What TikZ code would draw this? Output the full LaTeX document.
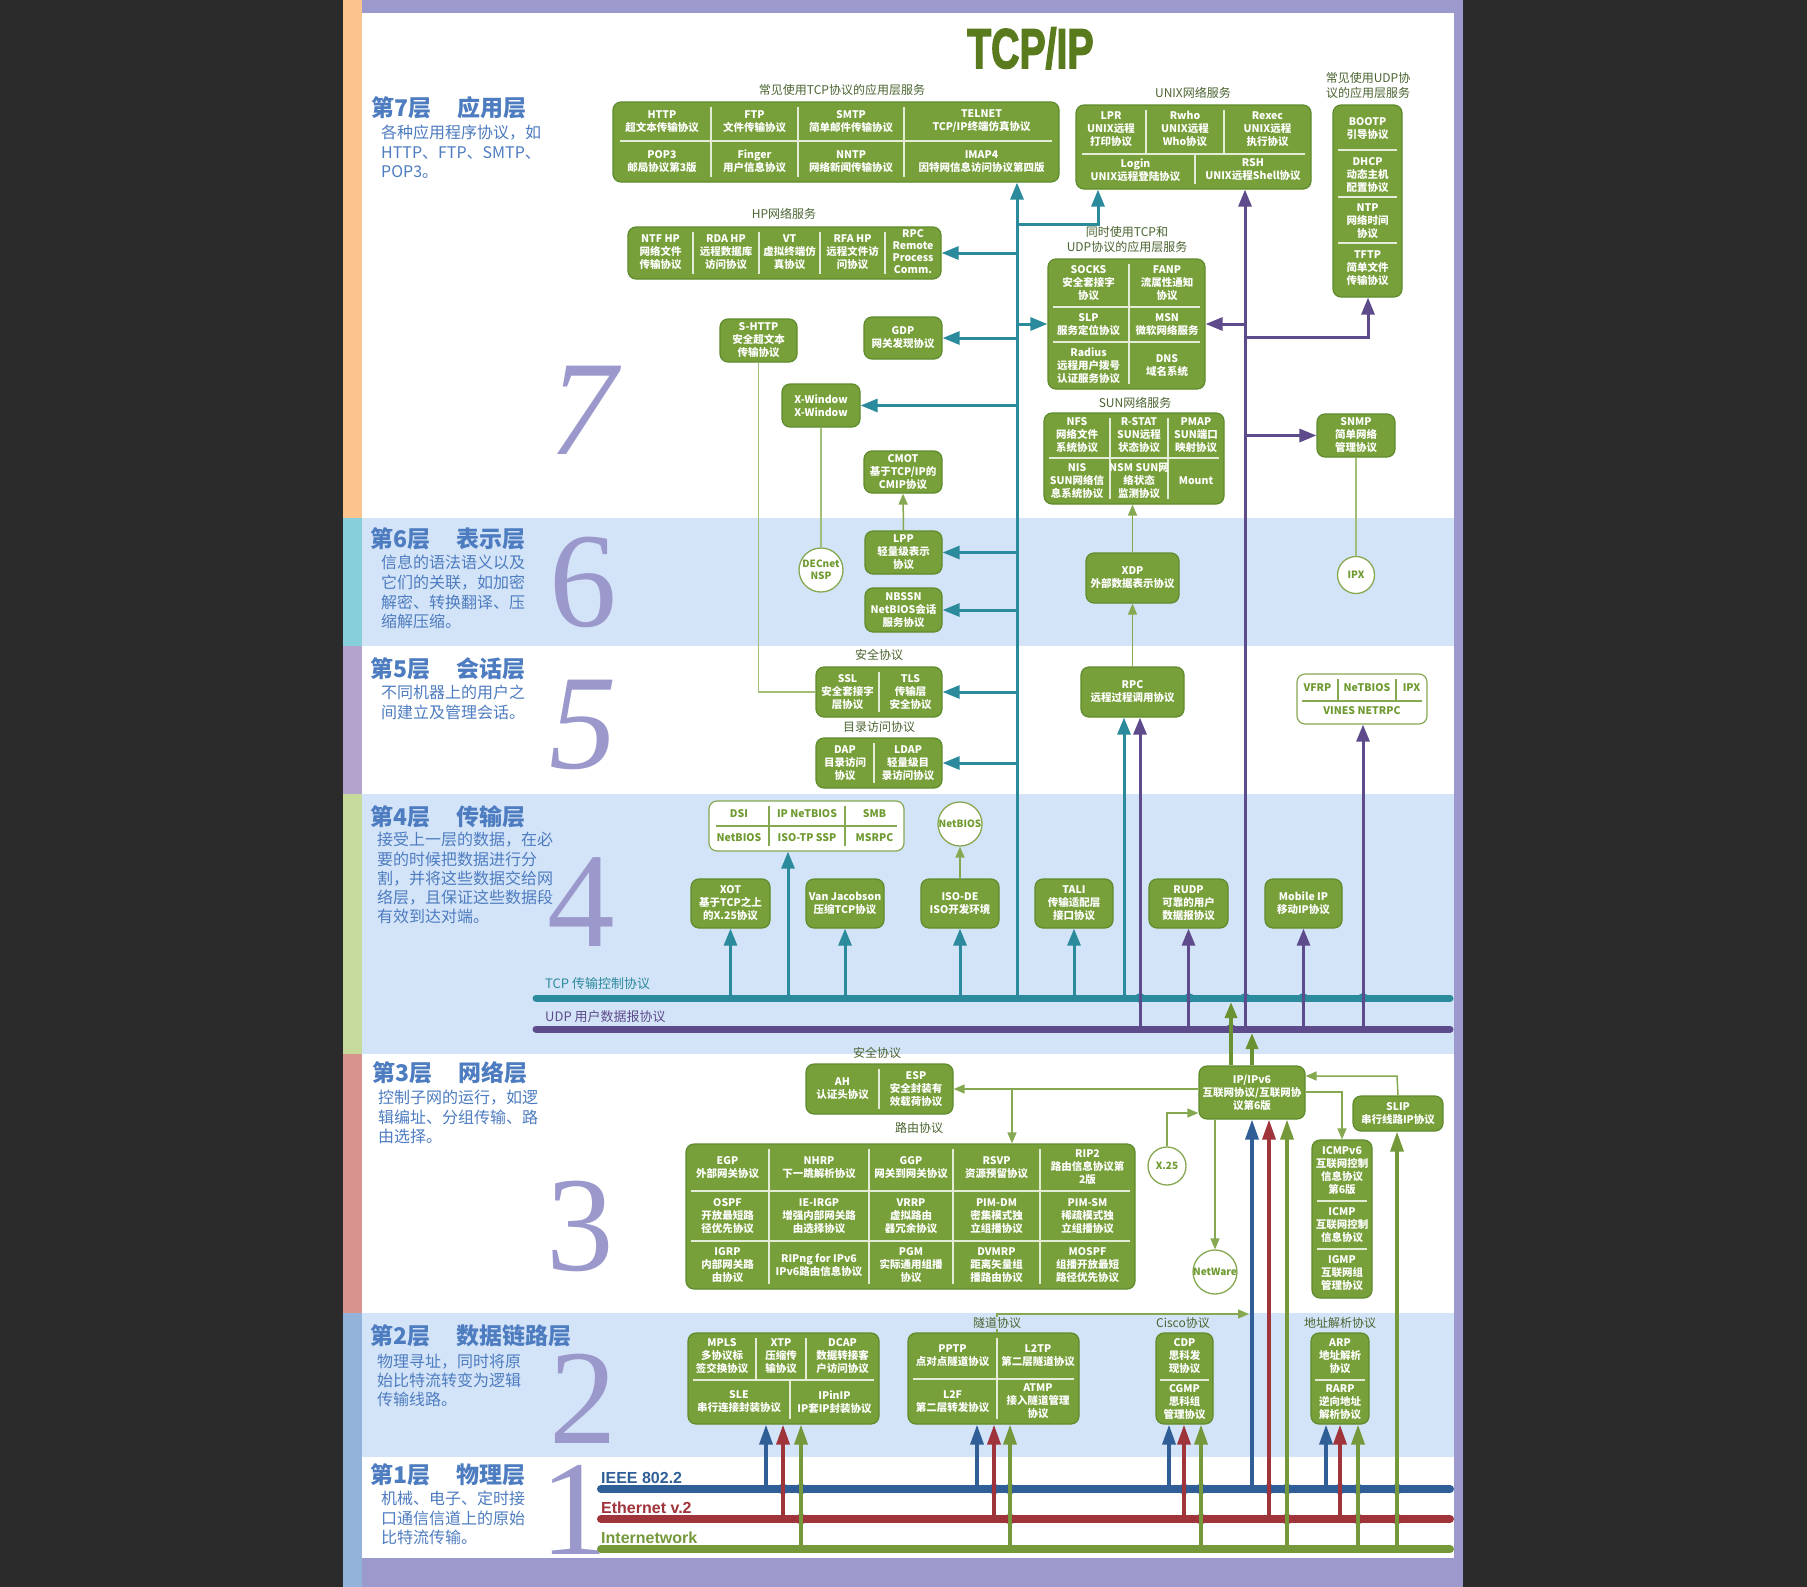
\documentclass[tikz,border=0pt]{standalone}
\usepackage{fontspec}
\setmainfont{Noto Sans CJK SC}
\newfontfamily\numfont{Liberation Serif}
\newfontfamily\latfont{Liberation Sans}
\newfontfamily\titlefont{Liberation Sans Bold}[FakeBold=3]
\usetikzlibrary{arrows.meta,fit}
\definecolor{bgdark}{HTML}{2B2B2B}
\definecolor{lav}{HTML}{9C9ACC}
\definecolor{s7}{HTML}{FBC48E}
\definecolor{s6}{HTML}{88CFDC}
\definecolor{s5}{HTML}{B4A3CC}
\definecolor{s4}{HTML}{C6DA9B}
\definecolor{s3}{HTML}{D9938E}
\definecolor{s2}{HTML}{94B3DA}
\definecolor{band}{HTML}{D4E4F8}
\definecolor{gfill}{HTML}{78A03A}
\definecolor{gedge}{HTML}{5E8B2C}
\definecolor{divc}{HTML}{E3ECD6}
\definecolor{teal}{HTML}{2B8A9B}
\definecolor{purp}{HTML}{5D4B8B}
\definecolor{lgreen}{HTML}{86A850}
\definecolor{pgreen}{HTML}{A3BE78}
\definecolor{dgreen}{HTML}{6B9232}
\definecolor{busblue}{HTML}{2F5F96}
\definecolor{busred}{HTML}{A0343B}
\definecolor{busgreen}{HTML}{74983A}
\definecolor{headblue}{HTML}{4D7CC0}
\definecolor{numc}{HTML}{9B98CC}
\definecolor{titleg}{HTML}{5A7A1E}
\definecolor{grplab}{HTML}{4A6430}
\definecolor{gtext}{HTML}{6E9A30}
\tikzset{
 gbox/.style={draw=gedge, line width=1.2pt, fill=gfill, rounded corners=8pt, inner sep=0pt},
 wbox/.style={draw=lgreen, line width=1.2pt, fill=white, rounded corners=8pt, inner sep=0pt},
 ct/.style={text=white, font=\fontsize{10.5}{13}\selectfont\bfseries, align=center, inner sep=0pt},
 ctr/.style={ct, font=\fontsize{10.5}{12}\selectfont\bfseries},
 gt/.style={text=gtext, font=\fontsize{10.5}{13}\selectfont\bfseries, align=center, inner sep=0pt},
 divl/.style={draw=divc, line width=1.1pt},
 gdiv/.style={draw=lgreen, line width=1.1pt},
 grp/.style={text=grplab, font=\fontsize{12}{15}\selectfont, align=center, inner sep=0pt},
 circ/.style={circle, draw=lgreen, line width=1.3pt, fill=white, inner sep=-4pt, text=gtext, font=\fontsize{10}{12}\selectfont\bfseries, align=center},
 tl/.style={draw=teal, line width=3pt},
 tla/.style={tl, -{Triangle[length=17pt,width=13pt]}},
 pl/.style={draw=purp, line width=3pt},
 pla/.style={pl, -{Triangle[length=17pt,width=13pt]}},
 gl/.style={draw=lgreen, line width=1.5pt},
 pgl/.style={draw=pgreen, line width=1.4pt},
 gla/.style={gl, -{Triangle[length=11pt,width=9pt]}},
 dga/.style={draw=dgreen, line width=3.5pt, -{Triangle[length=16pt,width=12pt]}},
 bla/.style={draw=busblue, line width=3.5pt, -{Triangle[length=20pt,width=13pt]}},
 rla/.style={draw=busred, line width=3.5pt, -{Triangle[length=20pt,width=13pt]}},
 nla/.style={draw=busgreen, line width=3.5pt, -{Triangle[length=20pt,width=13pt]}},
 head/.style={anchor=west, text=headblue, font=\fontsize{23}{26}\selectfont\bfseries, inner sep=0pt},
 desc/.style={anchor=north west, text=headblue, font=\fontsize{16}{19.6}\selectfont, align=left, inner sep=0pt},
 bignum/.style={text=numc, font=\numfont\fontsize{135}{135}\selectfont, inner sep=0pt},
 buslab/.style={anchor=west, font=\latfont\bfseries\fontsize{16}{18}\selectfont, inner sep=0pt},
}
\newcounter{tn}
\newcommand{\Txt}[3][ct]{\stepcounter{tn}\node[#1] (t\thetn) at (#2) {#3};}
\newcommand{\Gb}[5]{\node[gbox,fit={(#2,#3) (#4,#5)}] (#1) {};}
\newcommand{\Wb}[5]{\node[wbox,fit={(#2,#3) (#4,#5)}] (#1) {};}
\newcommand{\Dv}[5][divl]{\draw[#1] (#2,#3) -- (#4,#5);}
\begin{document}
\begin{tikzpicture}[x=1pt,y=-1pt]
\useasboundingbox (0,0) rectangle (1807,1587);
% ---------- background ----------
\fill[bgdark] (0,0) rectangle (1807,1587);
\fill[white] (362,13) rectangle (1454,1558);
\fill[band] (362,518) rectangle (1454,646);
\fill[band] (362,794) rectangle (1454,1054);
\fill[band] (362,1313) rectangle (1454,1457);
\fill[s7] (343,0) rectangle (362,518);
\fill[s6] (343,518) rectangle (362,646);
\fill[s5] (343,646) rectangle (362,794);
\fill[s4] (343,794) rectangle (362,1054);
\fill[s3] (343,1054) rectangle (362,1313);
\fill[s2] (343,1313) rectangle (362,1587);
\fill[lav] (362,0) rectangle (1454,13);
\fill[lav] (362,1558) rectangle (1454,1587);
\fill[lav] (1454,0) rectangle (1463,1587);
% ---------- title ----------
\node[anchor=base west, text=titleg, font=\titlefont\fontsize{56}{56}\selectfont, inner sep=0pt] (title) at (967,68) {\scalebox{0.7}[1]{TCP/IP}};
% ---------- layer headings ----------
\node[head] (h7) at (371,108) {第7层\hspace{26pt}应用层};
\node[desc] (d7) at (381,125) {各种应用程序协议，如\\HTTP、FTP、SMTP、\\POP3。};
\node[head] (h6) at (370,539) {第6层\hspace{26pt}表示层};
\node[desc] (d6) at (381,555) {信息的语法语义以及\\它们的关联，如加密\\解密、转换翻译、压\\缩解压缩。};
\node[head] (h5) at (370,669) {第5层\hspace{26pt}会话层};
\node[desc] (d5) at (381,685) {不同机器上的用户之\\间建立及管理会话。};
\node[head] (h4) at (370,817) {第4层\hspace{26pt}传输层};
\node[desc, font=\fontsize{16}{19.3}\selectfont] (d4) at (377,832) {接受上一层的数据，在必\\要的时候把数据进行分\\割，并将这些数据交给网\\络层，且保证这些数据段\\有效到达对端。};
\node[head] (h3) at (372,1073) {第3层\hspace{26pt}网络层};
\node[desc, font=\fontsize{16}{19.5}\selectfont] (d3) at (378,1090) {控制子网的运行，如逻\\辑编址、分组传输、路\\由选择。};
\node[head] (h2) at (370,1336) {第2层\hspace{26pt}数据链路层};
\node[desc, font=\fontsize{16}{18.7}\selectfont] (d2) at (377,1354) {物理寻址，同时将原\\始比特流转变为逻辑\\传输线路。};
\node[head] (h1) at (370,1475) {第1层\hspace{26pt}物理层};
\node[desc, font=\fontsize{16}{19.5}\selectfont] (d1) at (381,1491) {机械、电子、定时接\\口通信信道上的原始\\比特流传输。};
% ---------- big numerals ----------
\node[bignum, font=\numfont\itshape\fontsize{135}{135}\selectfont] (n7) at (583,410) {7};
\node[bignum] (n6) at (583,582) {6};
\node[bignum, font=\numfont\itshape\fontsize{135}{135}\selectfont] (n5) at (583,725) {5};
\node[bignum] (n4) at (581,902) {4};
\node[bignum] (n3) at (580,1226) {3};
\node[bignum] (n2) at (583,1399) {2};
\node[bignum] (n1) at (574,1510) {\makebox[30pt]{1}};
% ---------- buses ----------
\coordinate (tcpL) at (536,998); \coordinate (tcpR) at (1450,998);
\coordinate (udpL) at (536,1029); \coordinate (udpR) at (1450,1029);
\coordinate (ieL) at (601,1489); \coordinate (ieR) at (1450,1489);
\coordinate (etL) at (601,1519); \coordinate (etR) at (1450,1519);
\coordinate (inL) at (601,1549); \coordinate (inR) at (1450,1549);
\draw[teal, line width=7pt, line cap=round] (tcpL) -- (tcpR);
\draw[purp, line width=7pt, line cap=round] (udpL) -- (udpR);
\draw[busblue, line width=8pt, line cap=round] (ieL) -- (ieR);
\draw[busred, line width=8pt, line cap=round] (etL) -- (etR);
\draw[busgreen, line width=8pt, line cap=round] (inL) -- (inR);
\node[anchor=west, text=teal, font=\fontsize{13}{15}\selectfont, inner sep=0pt] (tcplab) at (545,984) {TCP 传输控制协议};
\node[anchor=west, text=purp, font=\fontsize{13}{15}\selectfont, inner sep=0pt] (udplab) at (545,1017) {UDP 用户数据报协议};
\node[buslab, text=busblue] (ielab) at (601,1478) {IEEE 802.2};
\node[buslab, text=busred] (etlab) at (601,1508) {Ethernet v.2};
\node[buslab, text=busgreen] (inlab) at (601,1538) {Internetwork};
% hops
\foreach \x in {1140,1189,1245,1303,1363} \fill[teal] (\x,998) circle (5pt);
\fill[purp] (1231,1029) circle (5pt);
\foreach \x in {783,801,994,1010,1184,1201,1269,1287,1340,1358,1397} \fill[busblue] (\x,1489) circle (5.5pt);
\foreach \x in {801,1010,1201,1287,1358,1397} \fill[busred] (\x,1519) circle (5.5pt);
% ---------- layer 7 boxes ----------
\node[grp] (g1) at (842,90) {常见使用TCP协议的应用层服务};
\Gb{tcpapp}{613}{102}{1059}{182}
\Dv{711}{107}{711}{177}\Dv{798}{107}{798}{177}\Dv{904}{107}{904}{177}\Dv{620}{141}{1052}{141}
\Txt{662,121.5}{HTTP\\超文本传输协议}
\Txt{754.5,121.5}{FTP\\文件传输协议}
\Txt{851,121.5}{SMTP\\简单邮件传输协议}
\Txt{981.5,121.5}{TELNET\\TCP/IP终端仿真协议}
\Txt{662,161.5}{POP3\\邮局协议第3版}
\Txt{754.5,161.5}{Finger\\用户信息协议}
\Txt{851,161.5}{NNTP\\网络新闻传输协议}
\Txt{981.5,161.5}{IMAP4\\因特网信息访问协议第四版}

\node[grp] (g2) at (1193,93) {UNIX网络服务};
\Gb{unix}{1076}{105}{1311}{189}
\Dv{1146}{110}{1146}{154}\Dv{1224}{110}{1224}{154}\Dv{1082}{154}{1305}{154}\Dv{1195}{154}{1195}{184}
\Txt{1111,129}{LPR\\UNIX远程\\打印协议}
\Txt{1185,129}{Rwho\\UNIX远程\\Who协议}
\Txt{1267.5,129}{Rexec\\UNIX远程\\执行协议}
\Txt{1135.5,170}{Login\\UNIX远程登陆协议}
\Txt{1253,170}{RSH\\UNIX远程Shell协议}

\node[grp] (g3) at (1368,85.5) {常见使用UDP协\\议的应用层服务};
\Gb{udpsvc}{1333}{105}{1402}{297}
\Dv{1338}{150}{1397}{150}\Dv{1338}{197}{1397}{197}\Dv{1338}{243}{1397}{243}
\Txt{1367.5,129}{BOOTP\\引导协议}
\Txt{1367.5,175}{DHCP\\动态主机\\配置协议}
\Txt{1367.5,221}{NTP\\网络时间\\协议}
\Txt{1367.5,268}{TFTP\\简单文件\\传输协议}

\node[grp] (g4) at (784,214) {HP网络服务};
\Gb{hp}{628}{227}{941}{279}
\Dv{693}{232}{693}{274}\Dv{759}{232}{759}{274}\Dv{820}{232}{820}{274}\Dv{885}{232}{885}{274}
\Txt{660.5,252}{NTF HP\\网络文件\\传输协议}
\Txt{726,252}{RDA HP\\远程数据库\\访问协议}
\Txt{789.5,252}{VT\\虚拟终端仿\\真协议}
\Txt{852.5,252}{RFA HP\\远程文件访\\问协议}
\Txt[ctr]{913,252}{RPC\\Remote\\Process\\Comm.}

\Gb{shttp}{720}{319}{797}{362}
\Txt{758.5,340.5}{S-HTTP\\安全超文本\\传输协议}
\Gb{gdp}{864}{317}{942}{359}
\Txt{903,338}{GDP\\网关发现协议}
\Gb{xwin}{782}{384}{860}{427}
\Txt{821,405.5}{X-Window\\X-Window}
\Gb{cmot}{864}{451}{942}{493}
\Txt{903,472}{CMOT\\基于TCP/IP的\\CMIP协议}

\node[grp] (g5) at (1127,239.5) {同时使用TCP和\\UDP协议的应用层服务};
\Gb{sock}{1048}{259}{1205}{389}
\Dv{1129}{264}{1129}{384}\Dv{1053}{307}{1200}{307}\Dv{1053}{342}{1200}{342}
\Txt{1088.5,283}{SOCKS\\安全套接字\\协议}
\Txt{1167,283}{FANP\\流属性通知\\协议}
\Txt{1088.5,324.5}{SLP\\服务定位协议}
\Txt{1167,324.5}{MSN\\微软网络服务}
\Txt{1088.5,365.5}{Radius\\远程用户拨号\\认证服务协议}
\Txt{1167,365.5}{DNS\\域名系统}

\node[grp] (g6) at (1135,403) {SUN网络服务};
\Gb{sun}{1044}{413}{1224}{504}
\Dv{1110}{418}{1110}{499}\Dv{1168}{418}{1168}{499}\Dv{1049}{458}{1219}{458}
\Txt{1077,435.5}{NFS\\网络文件\\系统协议}
\Txt{1139,435.5}{R-STAT\\SUN远程\\状态协议}
\Txt{1196,435.5}{PMAP\\SUN端口\\映射协议}
\Txt{1077,481}{NIS\\SUN网络信\\息系统协议}
\Txt{1139,481}{NSM SUN网\\络状态\\监测协议}
\Txt{1196,481}{Mount}

\Gb{snmp}{1317}{414}{1395}{457}
\Txt{1356,435.5}{SNMP\\简单网络\\管理协议}
\node[circ, minimum size=37pt] (ipx) at (1356,575) {IPX};
% ---------- layer 6 ----------
\Gb{lpp}{865}{531}{942}{574}
\Txt{903.5,552.5}{LPP\\轻量级表示\\协议}
\Gb{nbssn}{865}{588}{942}{632}
\Txt{903.5,610}{NBSSN\\NetBIOS会话\\服务协议}
\node[circ, minimum size=44pt] (decnet) at (821,570) {DECnet\\NSP};
\Gb{xdp}{1086}{553}{1179}{603}
\Txt{1132.5,578}{XDP\\外部数据表示协议}
% ---------- layer 5 ----------
\node[grp] (g7) at (879,655) {安全协议};
\Gb{ssl}{816}{667}{942}{717}
\Dv{879}{672}{879}{712}
\Txt{847.5,692}{SSL\\安全套接字\\层协议}
\Txt{910.5,692}{TLS\\传输层\\安全协议}
\node[grp] (g8) at (879,727) {目录访问协议};
\Gb{dap}{816}{738}{942}{788}
\Dv{874}{743}{874}{783}
\Txt{845,763}{DAP\\目录访问\\协议}
\Txt{908,763}{LDAP\\轻量级目\\录访问协议}
\Gb{rpc}{1081}{667}{1184}{717}
\Txt{1132.5,692}{RPC\\远程过程调用协议}
\Wb{vines}{1297}{674}{1427}{724}
\Dv[gdiv]{1338}{679}{1338}{700}\Dv[gdiv]{1396}{679}{1396}{700}\Dv[gdiv]{1302}{701}{1422}{701}
\Txt[gt]{1317.5,688}{VFRP}
\Txt[gt]{1367,688}{NeTBIOS}
\Txt[gt]{1411.5,688}{IPX}
\Txt[gt]{1362,711}{VINES NETRPC}
% ---------- layer 4 ----------
\Wb{dsi}{709}{801}{904}{851}
\Dv[gdiv]{769}{806}{769}{846}\Dv[gdiv]{845}{806}{845}{846}\Dv[gdiv]{716}{826}{897}{826}
\Txt[gt]{739,814}{DSI}
\Txt[gt]{807,814}{IP NeTBIOS}
\Txt[gt]{874.5,814}{SMB}
\Txt[gt]{739,838}{NetBIOS}
\Txt[gt]{807,838}{ISO-TP SSP}
\Txt[gt]{874.5,838}{MSRPC}
\node[circ, minimum size=44pt] (netbios) at (960,824) {NetBIOS};
\Gb{xot}{691}{879}{770}{928}
\Txt{730.5,903.5}{XOT\\基于TCP之上\\的X.25协议}
\Gb{vj}{806}{879}{884}{928}
\Txt{845,903.5}{Van Jacobson\\压缩TCP协议}
\Gb{isode}{921}{879}{999}{928}
\Txt{960,903.5}{ISO-DE\\ISO开发环境}
\Gb{tali}{1035}{879}{1113}{928}
\Txt{1074,903.5}{TALI\\传输适配层\\接口协议}
\Gb{rudp}{1149}{879}{1228}{928}
\Txt{1188.5,903.5}{RUDP\\可靠的用户\\数据报协议}
\Gb{mobip}{1265}{879}{1342}{928}
\Txt{1303.5,903.5}{Mobile IP\\移动IP协议}
% ---------- layer 3 ----------
\Gb{ah}{806}{1064}{953}{1114}
\Dv{879}{1069}{879}{1109}
\Txt{842.5,1089}{AH\\认证头协议}
\Txt{916,1089}{ESP\\安全封装有\\效载荷协议}
\node[grp] (g10) at (919,1128) {路由协议};
\Gb{route}{686}{1144}{1135}{1289}
\Dv{769}{1149}{769}{1284}\Dv{869}{1149}{869}{1284}\Dv{953}{1149}{953}{1284}\Dv{1040}{1149}{1040}{1284}
\Dv{691}{1191}{1130}{1191}\Dv{691}{1241}{1130}{1241}
\Txt{727.5,1167.5}{EGP\\外部网关协议}
\Txt{819,1167.5}{NHRP\\下一跳解析协议}
\Txt{911,1167.5}{GGP\\网关到网关协议}
\Txt{996.5,1167.5}{RSVP\\资源预留协议}
\Txt{1087.5,1167.5}{RIP2\\路由信息协议第\\2版}
\Txt{727.5,1216}{OSPF\\开放最短路\\径优先协议}
\Txt{819,1216}{IE-IRGP\\增强内部网关路\\由选择协议}
\Txt{911,1216}{VRRP\\虚拟路由\\器冗余协议}
\Txt{996.5,1216}{PIM-DM\\密集模式独\\立组播协议}
\Txt{1087.5,1216}{PIM-SM\\稀疏模式独\\立组播协议}
\Txt{727.5,1265}{IGRP\\内部网关路\\由协议}
\Txt{819,1265}{RIPng for IPv6\\IPv6路由信息协议}
\Txt{911,1265}{PGM\\实际通用组播\\协议}
\Txt{996.5,1265}{DVMRP\\距离矢量组\\播路由协议}
\Txt{1087.5,1265}{MOSPF\\组播开放最短\\路径优先协议}
\Gb{ip}{1199}{1066}{1305}{1119}
\Txt{1252,1092.5}{IP/IPv6\\互联网协议/互联网协\\议第6版}
\Gb{slip}{1353}{1096}{1443}{1131}
\Txt{1398,1113.5}{SLIP\\串行线路IP协议}
\node[circ, minimum size=38pt] (x25) at (1167,1166) {X.25};
\node[circ, minimum size=44pt] (netware) at (1215,1272) {NetWare};
\Gb{icmp}{1312}{1140}{1372}{1298}
\Dv{1317}{1201}{1367}{1201}\Dv{1317}{1249}{1367}{1249}
\Txt{1342,1170.5}{ICMPv6\\互联网控制\\信息协议\\第6版}
\Txt{1342,1225}{ICMP\\互联网控制\\信息协议}
\Txt{1342,1273.5}{IGMP\\互联网组\\管理协议}
% ---------- layer 2 ----------
\Gb{mpls}{688}{1333}{879}{1424}
\Dv{693}{1380}{874}{1380}\Dv{756}{1338}{756}{1380}\Dv{806}{1338}{806}{1380}\Dv{790}{1380}{790}{1419}
\Txt{722,1356.5}{MPLS\\多协议标\\签交换协议}
\Txt{781,1356.5}{XTP\\压缩传\\输协议}
\Txt{842.5,1356.5}{DCAP\\数据转接客\\户访问协议}
\Txt{739,1402}{SLE\\串行连接封装协议}
\Txt{834.5,1402}{IPinIP\\IP套IP封装协议}
\Gb{tun}{908}{1333}{1079}{1424}
\Dv{997}{1338}{997}{1419}\Dv{913}{1379}{1074}{1379}
\Txt{952.5,1356}{PPTP\\点对点隧道协议}
\Txt{1038,1356}{L2TP\\第二层隧道协议}
\Txt{952.5,1401.5}{L2F\\第二层转发协议}
\Txt{1038,1401.5}{ATMP\\接入隧道管理\\协议}
\Gb{cdp}{1156}{1333}{1213}{1424}
\Dv{1160}{1380}{1209}{1380}
\Txt{1184.5,1356.5}{CDP\\思科发\\现协议}
\Txt{1184.5,1402}{CGMP\\思科组\\管理协议}
\Gb{arp}{1311}{1333}{1369}{1424}
\Dv{1315}{1380}{1365}{1380}
\Txt{1340,1356.5}{ARP\\地址解析\\协议}
\Txt{1340,1402}{RARP\\逆向地址\\解析协议}
% ---------- connectors: TCP trunk ----------
\coordinate (TT) at (1017,998);
\coordinate (PT) at (1245,1029);
\coordinate (ub) at (1098,224);
\coordinate (ubr) at (1368,337);
\draw[tla] (TT) -- (TT |- tcpapp.south);
\draw[tla] (TT |- ub) -- (ub) -- (ub |- unix.south);
\draw[tla] (TT |- hp.east) -- (hp.east);
\draw[tla] (TT |- sock.west) -- (sock.west);
\draw[tla] (TT |- gdp.east) -- (gdp.east);
\draw[tla] (TT |- xwin.east) -- (xwin.east);
\draw[tla] (TT |- lpp.east) -- (lpp.east);
\draw[tla] (TT |- nbssn.east) -- (nbssn.east);
\draw[tla] (TT |- ssl.east) -- (ssl.east);
\draw[tla] (TT |- dap.east) -- (dap.east);
% UDP trunk
\draw[pla] (PT) -- (PT |- unix.south);
\draw[pla] (PT |- sock.east) -- (sock.east);
\draw[pla] (PT |- ubr) -- (ubr) -- (ubr |- udpsvc.south);
\draw[pla] (PT |- snmp.west) -- (snmp.west);
% thin green links
\draw[pgl] (shttp.south) -- (shttp.south |- ssl.west) -- (ssl.west);
\draw[pgl] (xwin.south) -- (decnet.north);
\draw[gla] (lpp.north) -- (cmot.south);
\draw[gla] (xdp.north) -- (xdp.north |- sun.south);
\draw[gla] (rpc.north) -- (xdp.south);
\draw[pgl] (snmp.south) -- (ipx.north);
\draw[gla] (isode.north) -- (netbios.south);
% layer 4 arrows from buses
\coordinate (dsiA) at (788,998);
\coordinate (rpcT) at (1124,998);
\coordinate (rpcU) at (1140,1029);
\coordinate (vinU) at (1363,1029);
\draw[tla] (xot.south |- tcpL) -- (xot.south);
\draw[tla] (dsiA) -- (dsiA |- dsi.south);
\draw[tla] (vj.south |- tcpL) -- (vj.south);
\draw[tla] (isode.south |- tcpL) -- (isode.south);
\draw[tla] (tali.south |- tcpL) -- (tali.south);
\draw[tla] (rpcT) -- (rpcT |- rpc.south);
\draw[pla] (rpcU) -- (rpcU |- rpc.south);
\draw[pla] (rudp.south |- udpL) -- (rudp.south);
\draw[pla] (mobip.south |- udpL) -- (mobip.south);
\draw[pla] (vinU) -- (vinU |- vines.south);
% IP up to transport
\coordinate (ipT1) at (1231,1002);
\coordinate (ipT2) at (1252,1033);
\draw[dga] (ipT1 |- ip.north) -- (ipT1);
\draw[dga] (ipT2 |- ip.north) -- (ipT2);
% layer 3 links
\coordinate (rb) at (1012,1089);
\coordinate (xb) at (1167,1113);
\coordinate (ib) at (1342,1092);
\coordinate (sb) at (1397,1076);
\draw[gla] (ip.west |- ah.east) -- (ah.east);
\draw[gla] (rb) -- (rb |- route.north);
\draw[gla] (x25.north) -- (xb) -- (xb -| ip.west);
\draw[gla] (netware.north |- ip.south) -- (netware.north);
\draw[gla] (ip.east |- ib) -- (ib) -- (icmp.north);
\draw[gla] (slip.north) -- (sb) -- (sb -| ip.east);
% tunnel line
\coordinate (tu1) at (997,1333);
\coordinate (tu2) at (997,1314);
\coordinate (tu3) at (1249,1314);
\draw[gla] (tu1) -- (tu2) -- (tu3);
\node[grp, fill=band, inner xsep=1pt] (g11) at (997,1323) {隧道协议};
\node[grp] (g12) at (1183,1323) {Cisco协议};
\node[grp] (g13) at (1340,1323) {地址解析协议};
\node[grp] (g9) at (877,1053) {安全协议};
% layer 1 to layer 2/3
\foreach \x/\n in {766/mpls,977/tun,1169/cdp,1326/arp,1252/ip}{
  \path (\x,1489) coordinate (bb);
  \draw[bla] (bb) -- (bb |- \n.south);}
\foreach \x/\n in {783/mpls,994/tun,1184/cdp,1340/arp,1269/ip}{
  \path (\x,1519) coordinate (rr);
  \draw[rla] (rr) -- (rr |- \n.south);}
\foreach \x/\n in {801/mpls,1010/tun,1201/cdp,1358/arp,1287/ip,1397/slip}{
  \path (\x,1549) coordinate (gg);
  \draw[nla] (gg) -- (gg |- \n.south);}
\end{tikzpicture}
\end{document}
